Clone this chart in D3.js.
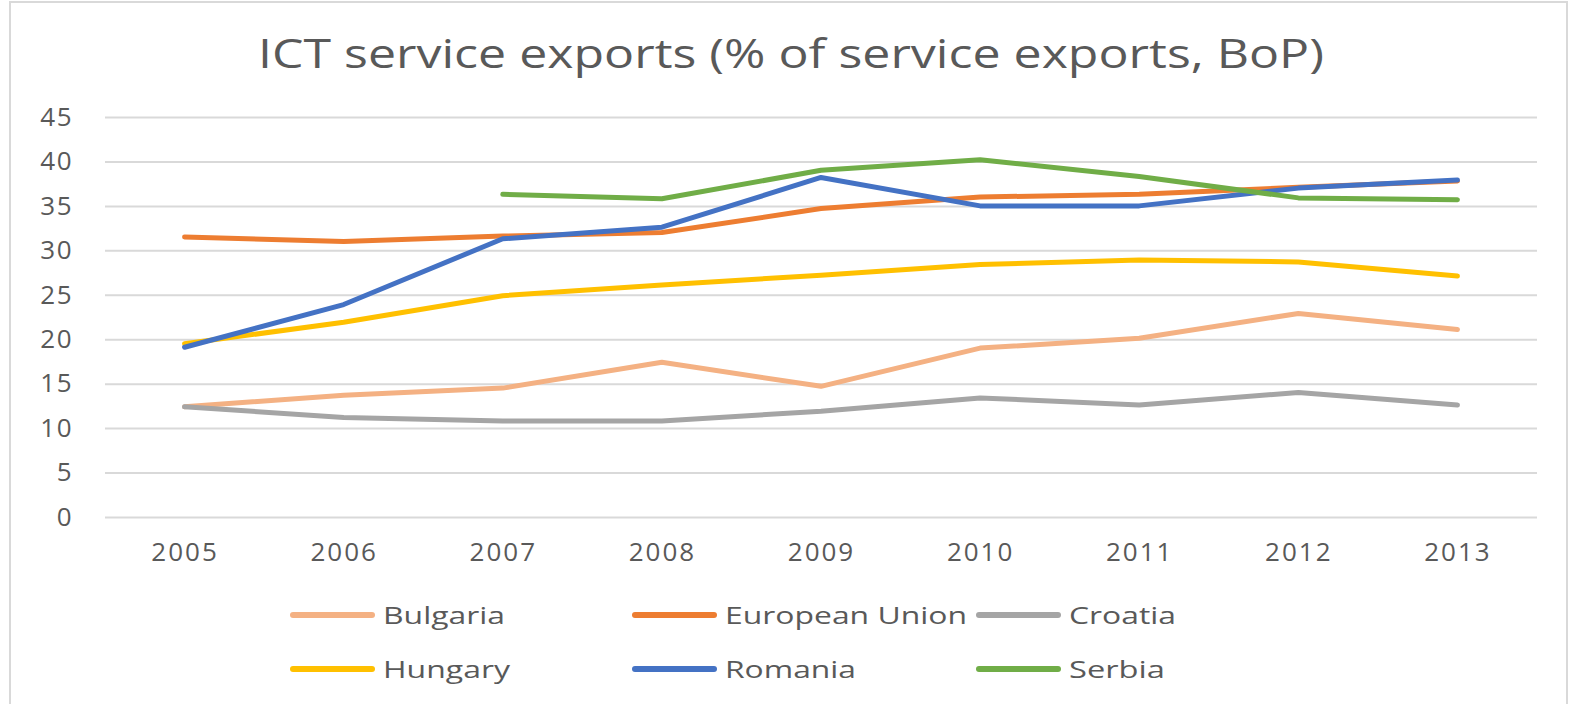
<!DOCTYPE html>
<html lang="en">
<head>
<meta charset="UTF-8">
<title>ICT service exports</title>
<script src="https://cdn.jsdelivr.net/npm/d3@7"></script>
<style>
  body { margin: 0; background: #fff; }
  svg text { font-family: "Open Sans", "Liberation Sans", sans-serif; fill: #595959; }
</style>
</head>
<body>
<script>
// data
let years = ['2005', '2006', '2007', '2008', '2009', '2010', '2011', '2012', '2013'];
let yTicks = [0, 5, 10, 15, 20, 25, 30, 35, 40, 45];
let bulgaria = [12.4, 13.7, 14.5, 17.4, 14.7, 19.0, 20.1, 22.9, 21.1];
let europeanUnion = [31.5, 31.0, 31.6, 32.0, 34.7, 36.0, 36.3, 37.1, 37.8];
let croatia = [12.4, 11.2, 10.8, 10.8, 11.9, 13.4, 12.6, 14.0, 12.6];
let hungary = [19.5, 21.9, 24.9, 26.1, 27.2, 28.4, 28.9, 28.7, 27.1];
let romania = [19.1, 23.9, 31.3, 32.6, 38.2, 35.0, 35.0, 37.0, 37.9];
let serbia = [null, null, 36.3, 35.8, 39.0, 40.2, 38.3, 35.9, 35.7];
let seriesNames = ['Bulgaria', 'European Union', 'Croatia', 'Hungary', 'Romania', 'Serbia'];
let seriesColors = ['#F4B183', '#ED7D31', '#A5A5A5', '#FFC000', '#4472C4', '#70AD47'];

let series = [bulgaria, europeanUnion, croatia, hungary, romania, serbia].map(function (v, i) {
  return { name: seriesNames[i], color: seriesColors[i], values: v };
});

let width = 1582;
let height = 704;
let plotLeft = 105, plotRight = 1537, plotTop = 117, plotBottom = 517;

let svg = d3.select('body').append('svg')
  .attr('width', width)
  .attr('height', height);

// chart frame
svg.append('rect')
  .attr('x', 10).attr('y', 2)
  .attr('width', 1557).attr('height', 720)
  .attr('fill', 'none')
  .attr('stroke', '#d9d9d9')
  .attr('stroke-width', 2);

svg.append('text')
  .attr('x', 791).attr('y', 68)
  .attr('text-anchor', 'middle')
  .attr('font-size', 40)
  .attr('textLength', 1066)
  .attr('lengthAdjust', 'spacingAndGlyphs')
  .text('ICT service exports (% of service exports, BoP)');

let x = d3.scalePoint()
  .domain(years)
  .range([plotLeft, plotRight])
  .padding(0.5);

let y = d3.scaleLinear()
  .domain([0, 45])
  .range([plotBottom, plotTop]);

// y axis + gridlines
let yAxis = svg.append('g')
  .attr('transform', 'translate(' + plotLeft + ',0)')
  .call(d3.axisLeft(y)
    .tickValues(yTicks)
    .tickSize(-(plotRight - plotLeft))
    .tickPadding(32));
yAxis.select('.domain').remove();
yAxis.selectAll('line').attr('stroke', '#d9d9d9').attr('stroke-width', 2);
yAxis.selectAll('text')
  .attr('font-size', 26)
  .attr('letter-spacing', 1.5)
  .attr('fill', '#595959');

// x axis
let xAxis = svg.append('g')
  .attr('transform', 'translate(0,' + plotBottom + ')')
  .call(d3.axisBottom(x).tickSize(0).tickPadding(26));
xAxis.select('.domain').remove();
xAxis.selectAll('text')
  .attr('font-size', 26)
  .attr('letter-spacing', 2)
  .attr('fill', '#595959');

let line = d3.line()
  .defined(function (d) { return d != null; })
  .x(function (d, i) { return x(years[i]); })
  .y(function (d) { return y(d); });

svg.selectAll('.series')
  .data(series)
  .enter().append('path')
  .attr('class', 'series')
  .attr('d', function (s) { return line(s.values); })
  .attr('fill', 'none')
  .attr('stroke', function (s) { return s.color; })
  .attr('stroke-width', 5)
  .attr('stroke-linecap', 'round')
  .attr('stroke-linejoin', 'round');

// legend, 3 columns x 2 rows
let legendCols = [291, 633, 977];
let legendRows = [615, 669];
let legendText = [122, 242, 107, 127, 131, 96];

let legend = svg.selectAll('.legend')
  .data(series)
  .enter().append('g')
  .attr('class', 'legend')
  .attr('transform', function (s, i) {
    return 'translate(' + legendCols[i % 3] + ',' + legendRows[Math.floor(i / 3)] + ')';
  });

legend.append('line')
  .attr('x1', 2).attr('x2', 81)
  .attr('y1', 0).attr('y2', 0)
  .attr('stroke', function (s) { return s.color; })
  .attr('stroke-width', 6)
  .attr('stroke-linecap', 'round');

legend.append('text')
  .attr('x', 92)
  .attr('y', 9)
  .attr('font-size', 24)
  .attr('textLength', function (s, i) { return legendText[i]; })
  .attr('lengthAdjust', 'spacingAndGlyphs')
  .text(function (s) { return s.name; });
</script>
</body>
</html>
